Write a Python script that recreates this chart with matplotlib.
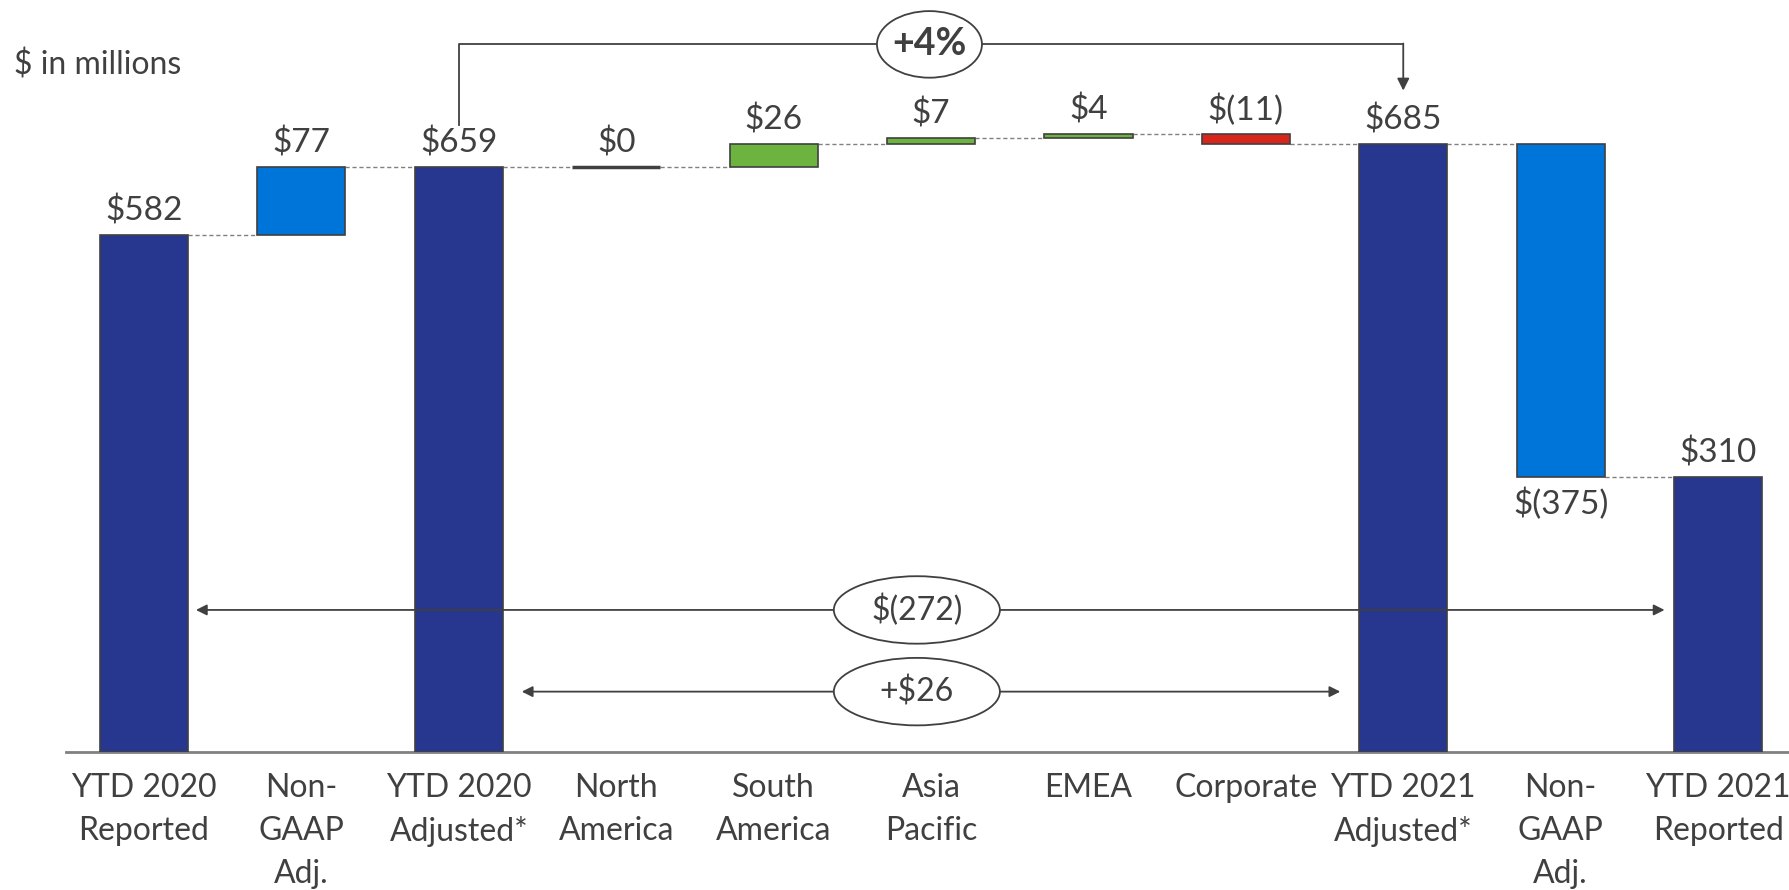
import numpy as np
import matplotlib
matplotlib.use("Agg")
import matplotlib.pyplot as plt
from matplotlib.patches import Ellipse

plt.rcParams['font.family'] = ['Lato', 'DejaVu Sans']

# data
categories = ["YTD 2020\nReported", "Non-\nGAAP\nAdj.", "YTD 2020\nAdjusted*", "North\nAmerica",
              "South\nAmerica", "Asia\nPacific", "EMEA", "Corporate", "YTD 2021\nAdjusted*",
              "Non-\nGAAP\nAdj.", "YTD 2021\nReported"]
values = [582, 77, 659, 0, 26, 7, 4, -11, 685, -375, 310]
kinds = ["total", "adj", "total", "seg", "seg", "seg", "seg", "seg", "total", "adj", "total"]
labels = ["$582", "$77", "$659", "$0", "$26", "$7", "$4", "$(11)", "$685", "$(375)", "$310"]
bridge_total = "$(272)"
bridge_adj = "+$26"
bridge_pct = "+4%"

NAVY = "#27378f"
BLUE = "#0075d9"
GREEN = "#6db33f"
RED = "#d9261c"
TXT = "#404040"

# waterfall bottoms
bottoms, heights, tops = [], [], []
run = 0
for v, k in zip(values, kinds):
    if k == "total":
        bottoms.append(0)
        heights.append(v)
        run = v
    else:
        bottoms.append(run if v >= 0 else run + v)
        heights.append(abs(v))
        run += v
    tops.append(run)

colors = []
for v, k in zip(values, kinds):
    if k == "total":
        colors.append(NAVY)
    elif k == "adj":
        colors.append(BLUE)
    else:
        colors.append(GREEN if v >= 0 else RED)
lws = [2.5 if h == 0 else 1.2 for h in heights]

fig = plt.figure(figsize=(17.9, 8.9), dpi=100)
ax = fig.add_axes([66 / 1790, 138 / 890, 1 - 66 / 1790, 752 / 890])
x = np.arange(len(values))
w = 0.56
ax.bar(x, heights, bottom=bottoms, width=w, color=colors, edgecolor=TXT, linewidth=lws, zorder=3)
ax.set_xlim(-0.4955, 10.457)
ax.set_ylim(0, 847)

# connectors
for i in range(len(values) - 1):
    ax.plot([x[i] + w / 2, x[i + 1] - w / 2], [tops[i], tops[i]], ls=(0, (3, 2)),
            color="#808080", lw=1, zorder=2)

# value labels
for i, (v, lab) in enumerate(zip(values, labels)):
    if kinds[i] == "adj" and v < 0:
        ax.annotate(lab, (x[i], bottoms[i]), xytext=(0, -8), textcoords="offset points",
                    ha="center", va="top", fontsize=24, color=TXT)
    else:
        ax.annotate(lab, (x[i], bottoms[i] + heights[i]), xytext=(0, 6), textcoords="offset points",
                    ha="center", va="bottom", fontsize=24, color=TXT)

# axis
for s in ["top", "right", "left"]:
    ax.spines[s].set_visible(False)
ax.spines["bottom"].set_color("#808080")
ax.spines["bottom"].set_linewidth(2)
ax.set_yticks([])
ax.set_xticks(x)
ax.set_xticklabels(categories, fontsize=23, color=TXT, linespacing=1.54)
ax.tick_params(axis="x", length=0, pad=15)

# bridge arrows
arrow_kw = dict(arrowstyle="<|-|>", color=TXT, lw=1.3, mutation_scale=16, shrinkA=0, shrinkB=0)
ax.annotate("", xy=(0.33, 160), xytext=(9.66, 160), arrowprops=arrow_kw, zorder=4)
ax.annotate("", xy=(2.4, 68), xytext=(7.6, 68), arrowprops=arrow_kw, zorder=4)
for yc, txt in [(160, bridge_total), (68, bridge_adj)]:
    ax.add_patch(Ellipse((4.91, yc), 1.055, 76, facecolor="white", edgecolor=TXT, lw=1.3, zorder=5))
    ax.text(4.91, yc, txt, ha="center", va="center", fontsize=23, color=TXT, zorder=6)

# top bracket
ax.plot([2, 2, 8], [706, 797, 797], color=TXT, lw=1.3, clip_on=False, zorder=4)
ax.annotate("", xy=(8, 745), xytext=(8, 798),
            arrowprops=dict(arrowstyle="-|>", color=TXT, lw=1.3, mutation_scale=18,
                            shrinkA=0, shrinkB=0), annotation_clip=False, zorder=4)
ax.add_patch(Ellipse((4.99, 797), 0.667, 75, facecolor="white", edgecolor=TXT, lw=1.3,
                     zorder=5, clip_on=False))
ax.text(4.99, 797, bridge_pct, ha="center", va="center", fontsize=27, fontweight="bold",
        color=TXT, zorder=6)

fig.text(14 / 1790, 1 - 75 / 890, "$ in millions", ha="left", va="baseline", fontsize=23, color=TXT)

fig.savefig("out.png", dpi=100)
